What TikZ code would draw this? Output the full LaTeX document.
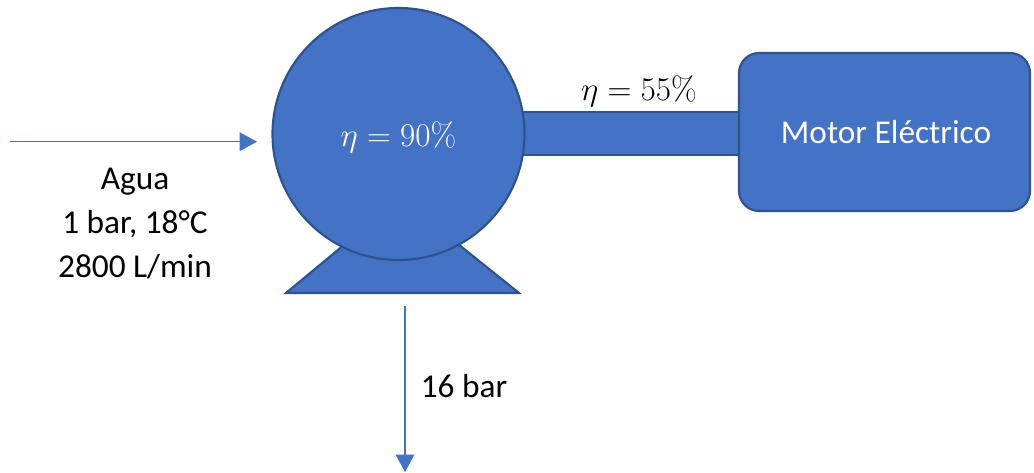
\documentclass[tikz,border=0pt]{standalone}
\usepackage[no-math]{fontspec}
\setmainfont{Carlito}
\usetikzlibrary{arrows.meta}
\definecolor{pfill}{HTML}{4472C4}
\definecolor{pdraw}{HTML}{2F528F}
\tikzset{
  body/.style={fill=pfill, draw=pdraw, line width=1.6pt},
  flow/.style={draw=pfill, line width=0.8pt, -{Triangle[length=13pt,width=14pt]}},
  lbl/.style={font=\fontsize{25}{33}\selectfont, text=black, align=center, inner sep=0pt},
  wlbl/.style={font=\fontsize{25}{33}\selectfont, text=white, align=center, inner sep=0pt},
  mlbl/.style={font=\fontsize{26}{33}\selectfont, align=center, inner sep=0pt},
}
\begin{document}
\begin{tikzpicture}[x=0.75pt,y=-0.75pt]
\useasboundingbox (0,0) rectangle (1034,473);
% shaft
\node[body, rectangle, minimum width={235*0.75pt}, minimum height={43*0.75pt}, inner sep=0pt] (shaft) at (627.5,133.5) {};
% base
\coordinate (bl) at (286,293);
\coordinate (br) at (519,293);
\coordinate (tl) at (350,240);
\coordinate (tr) at (453,240);
\draw[body, line join=miter] (bl) -- (br) -- (tr) -- (tl) -- cycle;
% pump
\node[body, circle, minimum size={252*0.75pt}, inner sep=0pt] (pump) at (398.5,134) {};
\node[mlbl, text=white] (eta1) at (398.5,137) {$\eta = 90\%$};
% motor
\node[body, rectangle, rounded corners=15pt, minimum width={291*0.75pt}, minimum height={158*0.75pt}] (motor) at (884.5,132) {};
\node[wlbl] (mtxt) at (886,132) {Motor Eléctrico};
\node[mlbl, text=black] (eta2) at (639,91) {$\eta = 55\%$};
% flows
\coordinate (inS) at (10,141.7);
\coordinate (inE) at (257,141.7);
\draw[flow] (inS) -- (inE);
\node[lbl] (agua) at (135,224) {Agua\\1 bar, 18°C\\2800 L/min};
\coordinate (outS) at (405,306);
\coordinate (outE) at (405,472);
\draw[flow] (outS) -- (outE);
\node[lbl] (p16) at (464,386) {16 bar};
\end{tikzpicture}
\end{document}
